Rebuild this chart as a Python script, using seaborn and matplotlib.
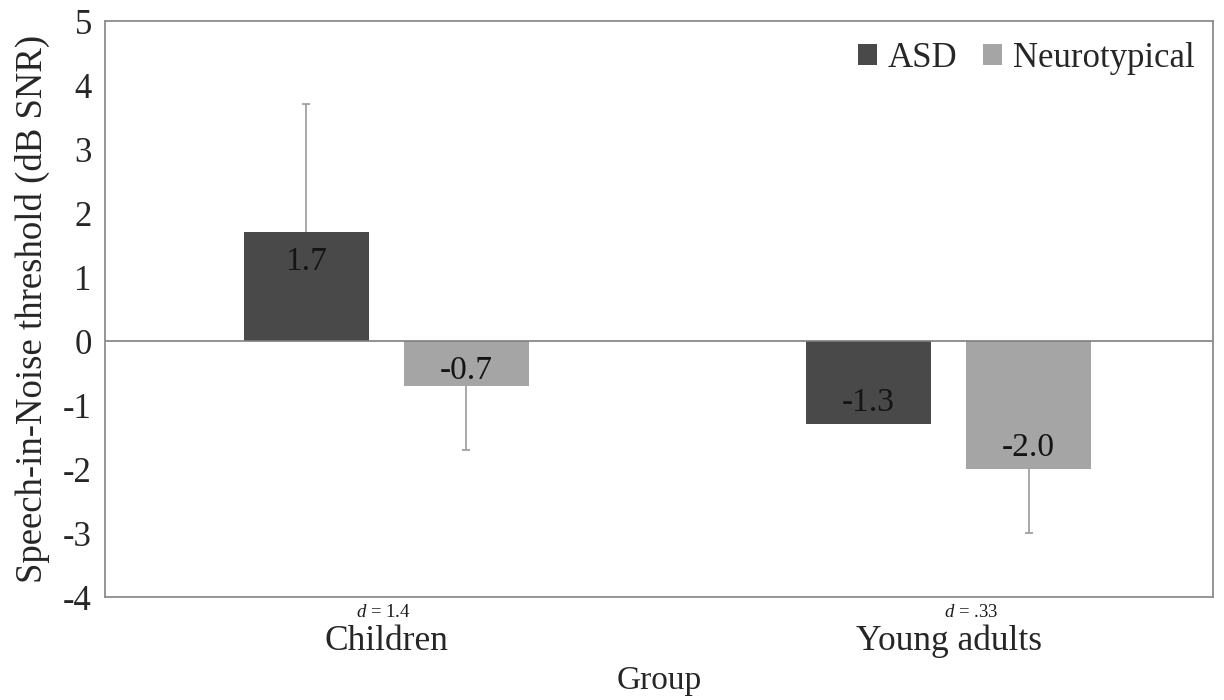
import matplotlib
matplotlib.use("Agg")
import matplotlib.pyplot as plt
import matplotlib.transforms as mtransforms
from matplotlib.container import BarContainer
import seaborn as sns
import pandas as pd
import numpy as np

# Mean speech-in-noise thresholds (dB SNR) per age group
groups = ["Children", "Young adults"]
populations = ["ASD", "Neurotypical"]
asd_means = [1.7, -1.3]
nt_means = [-0.7, -2.0]
# one-sided error bars: signed extent from the bar end (0 = none drawn)
asd_err = [2.0, 0.0]
nt_err = [-1.0, -1.0]
effect_sizes = ["1.4", ".33"]
y_ticks = [5, 4, 3, 2, 1, 0, -1, -2, -3, -4]

sns.set_style("white")
plt.rcParams["font.family"] = ["Liberation Serif", "DejaVu Serif"]
plt.rcParams["mathtext.fontset"] = "custom"
plt.rcParams["mathtext.rm"] = "Liberation Serif"
plt.rcParams["mathtext.it"] = "Liberation Serif:italic"

df = pd.DataFrame({
    "Group": groups * 2,
    "Population": [populations[0]] * len(groups) + [populations[1]] * len(groups),
    "Threshold": asd_means + nt_means,
})

fig = plt.figure(figsize=(12.24, 7.0), dpi=100)
ax = fig.add_axes([105 / 1224, 1 - 597 / 700, (1213 - 105) / 1224, (597 - 21) / 700])

palette = {"ASD": "#494949", "Neurotypical": "#a5a5a5"}
sns.barplot(data=df, x="Group", y="Threshold", hue="Population",
            order=groups, hue_order=populations, palette=palette,
            width=0.569, gap=0.219, errorbar=None, saturation=1,
            linewidth=0, ax=ax)

ax.set_ylim(-4, 5)
ax.set_xlim(-0.5, 1.47)
ax.set_yticks(y_ticks)
ax.set_yticklabels([str(t) for t in y_ticks])
ax.tick_params(axis="y", labelsize=25, length=0, pad=9.5)
ax.tick_params(axis="x", labelsize=25.5, length=0, pad=20)

# zero reference line
ax.axhline(0, color="#7f7f7f", linewidth=1.2, zorder=1)

for side in ["left", "right", "top", "bottom"]:
    ax.spines[side].set_visible(True)
    ax.spines[side].set_color("#8c8c8c")
    ax.spines[side].set_linewidth(1.3)

errs = [asd_err, nt_err]
means = [asd_means, nt_means]

bar_containers = [c for c in ax.containers if isinstance(c, BarContainer)]
for k, container in enumerate(bar_containers):
    xs = np.array([p.get_x() + p.get_width() / 2 for p in container.patches])
    m = np.array(means[k])
    e = np.array(errs[k])
    has = e != 0
    ax.vlines(xs[has], m[has], m[has] + e[has], color="#9a9a9a",
              linewidth=1.2, zorder=1)
    ax.plot(xs[has], m[has] + e[has], linestyle="none", marker="_",
            markersize=6, markeredgewidth=1.2, color="#9a9a9a", zorder=1)
    # value labels just inside the end of each bar
    for x, v in zip(xs, m):
        bar_px = abs(v) * 64
        if v > 0:
            dy = -30
        else:
            dy = min(21, bar_px - 30)
        ax.annotate(f"{v:.1f}", xy=(x, v), xytext=(0, dy),
                    textcoords="offset pixels", ha="center", va="center",
                    fontsize=24, color="#141414", zorder=5)

# effect sizes above the group names
trans = mtransforms.blended_transform_factory(ax.transData, ax.transAxes)
d_shift = [-0.005, 0.04]
for i, d in enumerate(effect_sizes):
    ax.text(i + d_shift[i], -0.027, f"$d$ = {d}", transform=trans,
            ha="center", va="center", fontsize=13.5, color="#1a1a1a")

ax.set_xlabel("Group", fontsize=24, labelpad=5)
ax.set_ylabel("Speech-in-Noise threshold (dB SNR)", fontsize=26.5, labelpad=9)

handles, labels = ax.get_legend_handles_labels()
ax.legend(handles[:2], labels[:2], loc="upper right", ncol=2, frameon=False,
          fontsize=25, handlelength=0.55, handleheight=0.55,
          handletextpad=0.3, columnspacing=0.75,
          bbox_to_anchor=(1.002, 1.0), borderaxespad=0.2)

fig.savefig("out.png", dpi=100)
